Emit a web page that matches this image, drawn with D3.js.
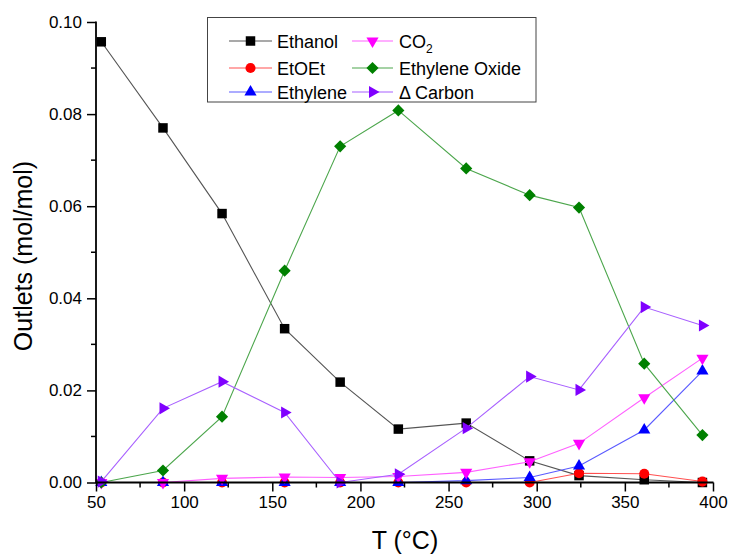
<!DOCTYPE html>
<html>
<head>
<meta charset="utf-8">
<script src="https://cdn.jsdelivr.net/npm/d3@7"></script>
<style>
  html, body { margin: 0; padding: 0; background: #fff; }
  svg { display: block; font-family: Arial, "Liberation Sans", sans-serif; }
</style>
</head>
<body>
<svg id="chart" width="731" height="556"></svg>
<script>
// ---- data ----
const temps    = [53, 88, 121.5, 157, 188.5, 221.5, 260, 296, 324, 361, 394];
const ethanol  = [0.0957, 0.0770, 0.0584, 0.0334, 0.0218, 0.0116, 0.0129, 0.0047, 0.0015, 0.0006, 0.0000];
const etoet    = [0, 0, 0, 0, 0, 0, 0, 0, 0.0020, 0.0019, 0.0002];
const ethylene = [0, 0, 0, 0, 0, 0, 0.0004, 0.0011, 0.0036, 0.0114, 0.0242];
const co2      = [0, 0, 0.0009, 0.0012, 0.0011, 0.0013, 0.0022, 0.0045, 0.0085, 0.0184, 0.0270];
const eo       = [0, 0.0026, 0.0143, 0.0460, 0.0730, 0.0808, 0.0682, 0.0624, 0.0597, 0.0258, 0.0103];
const dCarbon  = [0.0002, 0.0161, 0.0219, 0.0152, 0, 0.0018, 0.0118, 0.0230, 0.0201, 0.0381, 0.0341];
const xTicks = [50, 100, 150, 200, 250, 300, 350, 400];
const yTicks = [0, 0.02, 0.04, 0.06, 0.08, 0.10];

const series = [
  {name: "Ethanol", values: ethanol, color: "#000000", line: "#555555", shape: "square"},
  {name: "EtOEt", values: etoet, color: "#ff0000", line: "#ff5050", shape: "circle"},
  {name: "Ethylene", values: ethylene, color: "#0000ff", line: "#5a5aff", shape: "up"},
  {name: "CO2", values: co2, color: "#ff00ff", line: "#ff60ff", shape: "down"},
  {name: "Ethylene Oxide", values: eo, color: "#008000", line: "#4ca64c", shape: "diamond"},
  {name: "Δ Carbon", values: dCarbon, color: "#8000ff", line: "#a860ff", shape: "right"}
];

// ---- layout ----
const svg = d3.select("#chart");
const x = d3.scaleLinear().domain([50, 400]).range([96, 713]);
const y = d3.scaleLinear().domain([0, 0.10]).range([482.5, 22]);

function symbolPath(shape) {
  switch (shape) {
    case "square": return d3.symbol(d3.symbolSquare, 90)();
    case "circle": return d3.symbol(d3.symbolCircle, 80)();
    case "diamond": return d3.symbol(d3.symbolSquare, 74)();
    default: return d3.symbol(d3.symbolTriangle, 64)();
  }
}
function symbolRotate(shape) {
  return {diamond: 45, down: 180, right: 90}[shape] || 0;
}

// ---- series ----
const line = d3.line().x(d => x(d[0])).y(d => y(d[1]));
series.forEach(s => {
  const pts = temps.map((t, i) => [t, s.values[i]]);
  const g = svg.append("g");
  g.append("path").attr("d", line(pts)).attr("fill", "none")
    .attr("stroke", s.line).attr("stroke-width", 1.1);
  g.selectAll("path.m").data(pts).enter().append("path").attr("class", "m")
    .attr("d", symbolPath(s.shape))
    .attr("transform", d => `translate(${x(d[0])},${y(d[1])}) rotate(${symbolRotate(s.shape)})`)
    .attr("fill", s.color);
});

// ---- axes ----
const xMinor = d3.range(75, 400, 50);
const yMinor = d3.range(0.01, 0.10, 0.02);
const xAxis = svg.append("g").attr("transform", "translate(0,482.5)");
xAxis.call(d3.axisBottom(x).tickValues(xTicks).tickSize(9).tickPadding(4).tickFormat(d3.format("d")));
xAxis.append("g").selectAll("line").data(xMinor).enter().append("line")
  .attr("x1", d => x(d)).attr("x2", d => x(d)).attr("y1", 0).attr("y2", 5)
  .attr("stroke", "#000").attr("stroke-width", 1.5);
const yAxis = svg.append("g").attr("transform", "translate(96,0)");
yAxis.call(d3.axisLeft(y).tickValues(yTicks).tickSize(9).tickPadding(5).tickFormat(d3.format(".2f")));
yAxis.append("g").selectAll("line").data(yMinor).enter().append("line")
  .attr("y1", d => y(d)).attr("y2", d => y(d)).attr("x1", 0).attr("x2", -5)
  .attr("stroke", "#000").attr("stroke-width", 1.5);
[xAxis, yAxis].forEach(a => {
  a.select(".domain").remove();
  a.selectAll(".tick line").attr("stroke-width", 1.5);
  a.selectAll(".tick text").attr("font-size", 17).attr("fill", "#000")
    .attr("font-family", "Arial, 'Liberation Sans', sans-serif");
});
svg.append("line").attr("x1", 96).attr("x2", 713.5).attr("y1", 482.5).attr("y2", 482.5)
  .attr("stroke", "#000").attr("stroke-width", 1.8);
svg.append("line").attr("x1", 96).attr("x2", 96).attr("y1", 21.5).attr("y2", 483)
  .attr("stroke", "#000").attr("stroke-width", 1.8);

// axis titles
svg.append("text").attr("x", 405).attr("y", 549).attr("text-anchor", "middle")
  .attr("font-size", 25).text("T (°C)");
svg.append("text").attr("transform", "translate(32,256) rotate(-90)").attr("text-anchor", "middle")
  .attr("font-size", 25).text("Outlets (mol/mol)");

// ---- legend ----
const lg = svg.append("g");
lg.append("rect").attr("x", 207.5).attr("y", 17.5).attr("width", 328.5).attr("height", 84.5)
  .attr("fill", "#fff").attr("stroke", "#444").attr("stroke-width", 1);
const cols = [{x0: 229, x1: 272, tx: 277}, {x0: 352, x1: 393, tx: 399}];
const rows = [41, 68, 92];
series.forEach((s, i) => {
  const c = cols[Math.floor(i / 3)], r = rows[i % 3];
  lg.append("line").attr("x1", c.x0).attr("x2", c.x1).attr("y1", r).attr("y2", r)
    .attr("stroke", s.line).attr("stroke-width", 1.1);
  lg.append("path").attr("d", symbolPath(s.shape))
    .attr("transform", `translate(${(c.x0 + c.x1) / 2},${r}) rotate(${symbolRotate(s.shape)})`)
    .attr("fill", s.color);
  const t = lg.append("text").attr("x", c.tx).attr("y", r + 6.5).attr("font-size", 18).attr("fill", "#000");
  if (s.name === "CO2") {
    t.append("tspan").text("CO");
    t.append("tspan").attr("font-size", 12).attr("dy", 5).text("2");
  } else {
    t.text(s.name);
  }
});
</script>
</body>
</html>
